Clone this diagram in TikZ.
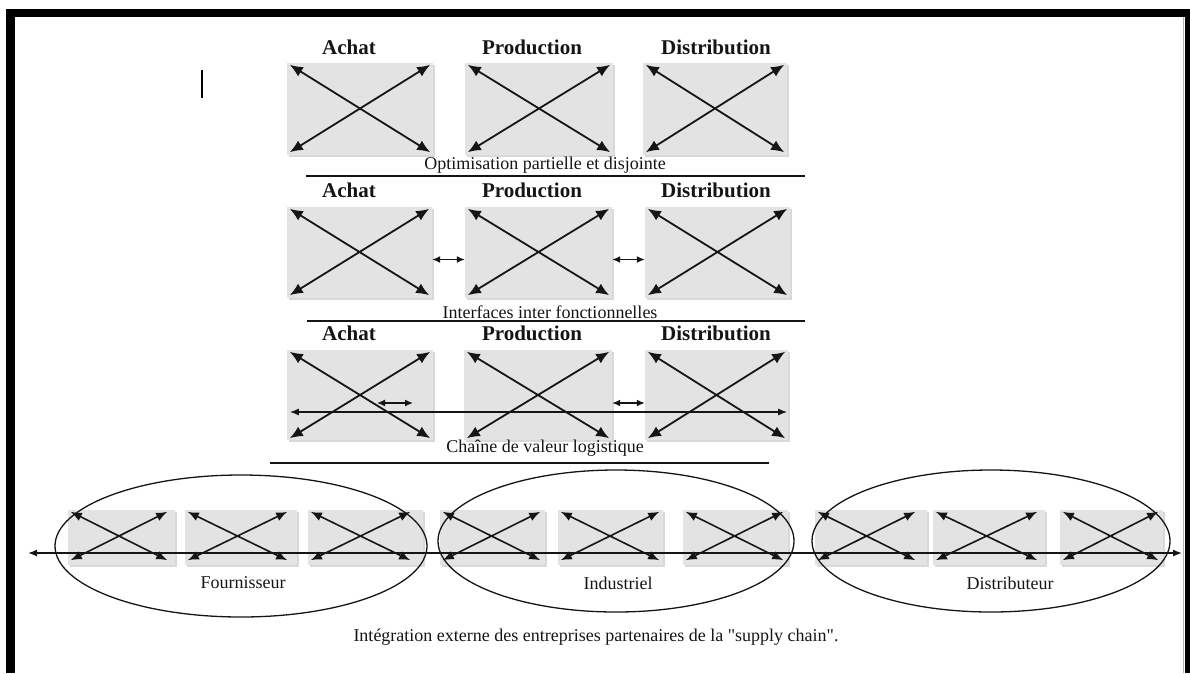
\documentclass[tikz,border=0pt]{standalone}
\usepackage{fontspec}
\setmainfont{Liberation Serif}
\usetikzlibrary{arrows.meta,shadows}
\definecolor{panelgray}{HTML}{E3E3E3}
\definecolor{inkgray}{HTML}{151515}
% straight double quote, set as a glyph so that no ligature mapping curls it
\newcommand\straightdq{\XeTeXglyph\XeTeXcharglyph"22\relax}

% A grey panel crossed by two double-headed diagonals.
% #1 name, #2 left, #3 top, #4 right, #5 bottom, #6 right inset, #7 bottom inset, #8 arrow style
\newcommand\crosspanel[8]{%
  \node[panel, minimum width={#4-#2}, minimum height={#5-#3}] (#1) at ({(#2+#4)/2},{(#3+#5)/2}) {};
  \draw[#8] ([xshift=3pt,yshift=-2pt]#1.north west) -- ([xshift=-#6pt,yshift=#7pt]#1.south east);
  \draw[#8] ([xshift=3pt,yshift=#7pt]#1.south west) -- ([xshift=-#6pt,yshift=-2pt]#1.north east);
}

\begin{document}
\begin{tikzpicture}[x=1pt,y=-1pt,
  panel/.style={fill=panelgray, draw=none, inner sep=0pt,
    drop shadow={shadow xshift=1.5pt, shadow yshift=-1.5pt, opacity=0.3}},
  bigx/.style={line width=1.8pt, draw=inkgray, {Latex[length=13pt,width=11pt]}-{Latex[length=13pt,width=11pt]}},
  smallx/.style={line width=1.6pt, draw=inkgray, {Latex[length=11pt,width=9pt]}-{Latex[length=11pt,width=9pt]}},
  link/.style={line width=1.4pt, draw=inkgray, {Latex[length=8pt,width=7pt]}-{Latex[length=8pt,width=7pt]}},
  chain/.style={line width=1.4pt, draw=inkgray, {Latex[length=9pt,width=7pt]}-{Latex[length=9pt,width=7pt]}},
  rule/.style={line width=1.6pt, draw=inkgray},
  head/.style={font=\fontsize{21}{24}\selectfont\bfseries, text=inkgray, inner sep=0pt},
  caption/.style={font=\fontsize{18}{20}\selectfont, text=inkgray, inner sep=0pt},
  company/.style={draw=inkgray, line width=1.3pt}]
\useasboundingbox (0,0) rectangle (1190,673);

% page frame
\fill[black] (6,9) rectangle (1190,17);
\fill[black] (6,9) rectangle (15,673);
\fill[black] (1185,9) rectangle (1190,673);
\draw[gray!60, line width=1pt] (1183,17) -- (1183,673);
\draw[black, line width=1.2pt] (202,70) -- (202,98);

% ---- row 1: partial, disjoint optimisation
\node[head] (h1a) at (349,47) {Achat};
\node[head] (h1p) at (532,47) {Production};
\node[head] (h1d) at (716,47) {Distribution};
\crosspanel{r1a}{287}{63}{433}{155}{3}{3}{bigx}
\crosspanel{r1p}{465}{63}{613}{155}{3}{3}{bigx}
\crosspanel{r1d}{643}{63}{787}{155}{3}{3}{bigx}
\node[caption] (c1) at (545,165) {Optimisation partielle et disjointe};
\draw[rule] (306,176) -- (805,176);

% ---- row 2: cross-functional interfaces
\node[head] (h2a) at (349,190) {Achat};
\node[head] (h2p) at (532,190) {Production};
\node[head] (h2d) at (716,190) {Distribution};
\crosspanel{r2a}{287}{207}{432}{298}{3}{3}{bigx}
\crosspanel{r2p}{465}{207}{612}{298}{3}{3}{bigx}
\crosspanel{r2d}{645}{207}{790}{298}{3}{3}{bigx}
\draw[link] ([yshift=-7pt]r2a.east) -- ([yshift=-7pt]r2p.west);
\draw[link] ([yshift=-7pt]r2p.east) -- ([yshift=-7pt]r2d.west);
\node[caption] (c2) at (550,312) {Interfaces inter fonctionnelles};
\draw[rule] (307,321) -- (805,321);

% ---- row 3: logistic value chain
\node[head] (h3a) at (349,333) {Achat};
\node[head] (h3p) at (532,333) {Production};
\node[head] (h3d) at (716,333) {Distribution};
\crosspanel{r3a}{287}{350}{433}{440}{3}{2}{bigx}
\crosspanel{r3p}{464}{350}{612}{440}{3}{2}{bigx}
\crosspanel{r3d}{645}{350}{788}{440}{3}{2}{bigx}
\coordinate (l3a) at (377,403);
\coordinate (l3b) at (413,403);
\draw[link] (l3a) -- (l3b);
\draw[link] ([yshift=-8pt]r3p.east) -- ([yshift=-8pt]r3d.west);
\draw[chain] ([xshift=3pt,yshift=-17pt]r3a.west) -- ([xshift=-1pt,yshift=-17pt]r3d.east);
\node[caption] (c3) at (545,448) {Chaîne de valeur logistique};
\draw[rule] (270,463) -- (769,463);

% ---- external integration of the supply chain partners
\crosspanel{b1}{68}{510}{175}{565}{8}{5}{smallx}
\crosspanel{b2}{185}{510}{297}{565}{10}{5}{smallx}
\crosspanel{b3}{308}{510}{423}{565}{13}{5}{smallx}
\crosspanel{b4}{440}{510}{545}{565}{5}{5}{smallx}
\crosspanel{b5}{558}{510}{663}{565}{4}{5}{smallx}
\crosspanel{b6}{683}{510}{788}{565}{5}{5}{smallx}
\crosspanel{b7}{815}{510}{927}{565}{12}{5}{smallx}
\crosspanel{b8}{933}{510}{1045}{565}{8}{5}{smallx}
\crosspanel{b9}{1060}{510}{1163}{565}{5}{5}{smallx}

\coordinate (flowL) at (28,553);
\coordinate (flowR) at (1182,553);
\draw[chain] (flowL) -- (flowR);

\draw[company] (241,546) ellipse [x radius=186, y radius=71];
\draw[company] (616,541) ellipse [x radius=178, y radius=71];
\draw[company] (991,541) ellipse [x radius=179, y radius=71];

\node[caption] (f) at (243,583) {Fournisseur};
\node[caption] (i) at (618,583) {Industriel};
\node[caption] (d) at (1010,583) {Distributeur};
\node[caption] (cap) at (596,637) {Intégration externe des entreprises partenaires de la \straightdq supply chain\straightdq.};
\end{tikzpicture}
\end{document}
